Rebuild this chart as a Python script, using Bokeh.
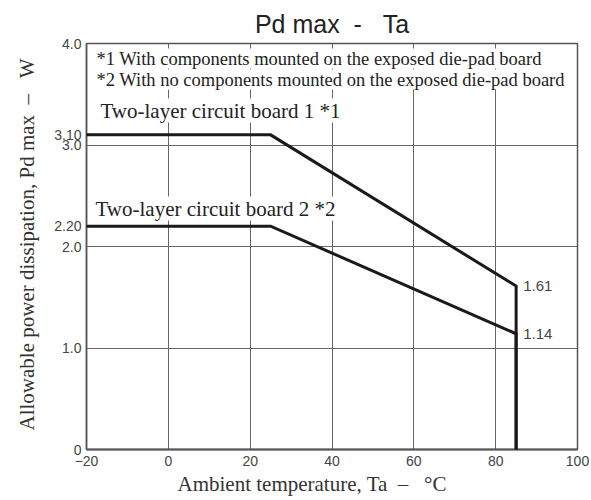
from bokeh.plotting import figure
from bokeh.models import Range1d, FixedTicker, Label, Title
from bokeh.embed import file_html
from bokeh.resources import INLINE

# ---- data ----
temp_board1 = [-20, 25, 85, 85]
pd_board1 = [3.10, 3.10, 1.61, 0.0]
temp_board2 = [-20, 25, 85, 85]
pd_board2 = [2.20, 2.20, 1.14, 0.0]

x_ticks = [-20, 0, 20, 40, 60, 80, 100]
y_ticks = [0, 1.0, 2.0, 2.20, 3.0, 3.10, 4.0]
y_tick_labels = {0: "0", 1.0: "1.0", 2.0: "2.0", 2.2: "2.20", 3.0: "3.0", 3.1: "3.10", 4.0: "4.0"}
x_grid = [0, 20, 40, 60, 80]
y_grid = [1, 2, 3]

NB = "\u00a0"
title_text = "Pd" + NB + "max" + NB * 2 + "-" + NB * 3 + "Ta"
x_label = "Ambient temperature, Ta" + NB * 2 + "\u2013" + NB * 3 + "\u00b0C"
y_label = "Allowable power dissipation, Pd max" + NB * 2 + "\u2013" + NB * 3 + "W"
note1 = "*1 With components mounted on the exposed die-pad board"
note2 = "*2 With no components mounted on the exposed die-pad board"
name1 = "Two-layer circuit board 1 *1"
name2 = "Two-layer circuit board 2 *2"

SANS = "Liberation Sans"
SERIF = "Liberation Serif"

p = figure(width=590, height=498, output_backend="svg", toolbar_location=None,
           x_range=Range1d(-20, 100), y_range=Range1d(0, 4),
           min_border_left=86, min_border_right=13, min_border_top=43, min_border_bottom=49)

p.outline_line_color = "#555555"
p.outline_line_width = 1.5
p.background_fill_color = "white"
p.border_fill_color = "white"

# title
p.title.text = title_text
p.title.align = "center"
p.title.text_font = SANS
p.title.text_font_size = "25px"
p.title.text_font_style = "normal"
p.title.text_color = "#222222"
p.title.standoff = 12

for ax in (p.xaxis[0], p.yaxis[0]):
    ax.major_tick_out = 0
    ax.major_tick_in = 0
    ax.minor_tick_out = 0
    ax.minor_tick_in = 0
    ax.axis_line_color = "#555555"
    ax.axis_line_width = 1.5
    ax.major_label_text_font = SANS
    ax.major_label_text_color = "#444444"

p.xaxis.major_label_text_font_size = "14px"
p.yaxis.major_label_text_font_size = "14px"
p.xaxis[0].axis_line_width = 2
p.xaxis.ticker = FixedTicker(ticks=x_ticks)
p.yaxis.ticker = FixedTicker(ticks=y_ticks)
p.yaxis.major_label_overrides = y_tick_labels
p.xaxis.major_label_standoff = 6
p.yaxis.major_label_standoff = 5

p.xgrid.ticker = FixedTicker(ticks=x_grid)
p.ygrid.ticker = FixedTicker(ticks=y_grid)
for g in (p.xgrid[0], p.ygrid[0]):
    g.grid_line_color = "#666666"
    g.grid_line_width = 1

# axis titles as side-panel titles
xt = Title(text=x_label, align="left", offset=91, text_font=SERIF,
           text_font_size="21px", text_font_style="normal", text_color="#333333", standoff=2)
p.add_layout(xt, "below")
yt = Title(text=y_label, align="left", offset=19, text_font=SERIF,
           text_font_size="21px", text_font_style="normal", text_color="#333333", standoff=25)
p.add_layout(yt, "left")


def add_label(text, x, y, xo, yo, size, font, color="#222222", align="left",
              baseline="alphabetic", bg=None):
    kw = dict(x=x, y=y, x_offset=xo, y_offset=yo, text=text,
              text_font=font, text_font_size=size, text_color=color,
              text_align=align, text_baseline=baseline)
    if bg:
        kw.update(background_fill_color=bg, background_fill_alpha=1.0)
    lab = Label(**kw)
    p.add_layout(lab)
    return lab


add_label(note1, -20, 4.0, 10, -15, "18.5px", SERIF, bg="white")
add_label(note2, -20, 4.0, 10, -36, "18.5px", SERIF, bg="white")
add_label(name1, -20, 4.0, 14, -67, "21px", SERIF, bg="white")
add_label(name2, -20, 4.0, 9, -165, "21px", SERIF, bg="white")

# curves (drawn above the label backgrounds)
l1 = p.line(temp_board1, pd_board1, line_color="#1a1a1a", line_width=3, line_join="miter")
l2 = p.line(temp_board2, pd_board2, line_color="#1a1a1a", line_width=3, line_join="miter")
l1.level = "overlay"
l2.level = "overlay"

# end value labels
add_label("%.2f" % pd_board1[2], temp_board1[2], pd_board1[2], 7, 0, "15px", SANS,
          color="#444444", baseline="middle")
add_label("%.2f" % pd_board2[2], temp_board2[2], pd_board2[2], 7, 0, "15px", SANS,
          color="#444444", baseline="middle")

open("out.html", "w").write(file_html(p, INLINE))
